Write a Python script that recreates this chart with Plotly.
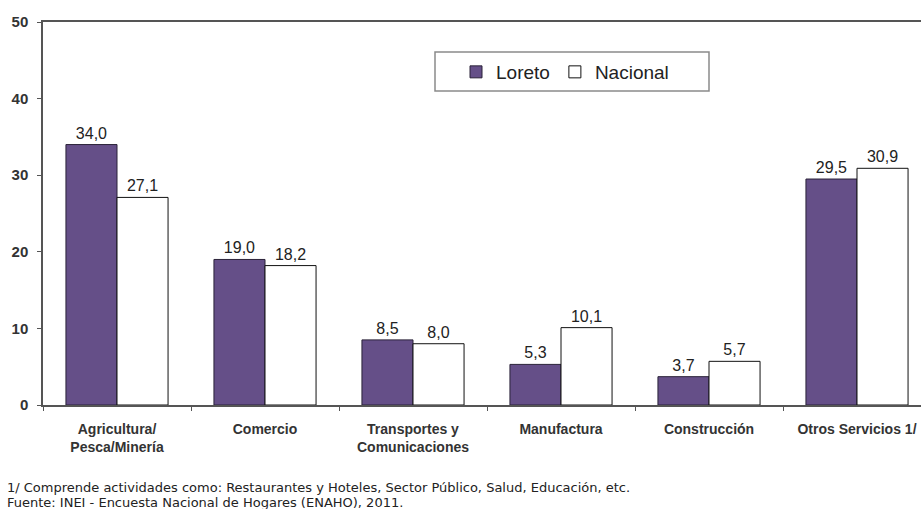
import plotly.graph_objects as go

categories = ["Agricultura/<br>Pesca/Minería", "Comercio", "Transportes y<br>Comunicaciones",
              "Manufactura", "Construcción", "Otros Servicios 1/"]
loreto = [34.0, 19.0, 8.5, 5.3, 3.7, 29.5]
nacional = [27.1, 18.2, 8.0, 10.1, 5.7, 30.9]
y_ticks = [0, 10, 20, 30, 40, 50]

W, H = 921, 509
L, R, T, B = 43, 0, 22, 104
plot_w = W - L - R
plot_h = H - T - B

SANS = "Liberation Sans, Arial, sans-serif"

fig = go.Figure()
fig.add_trace(go.Bar(
    x=categories, y=loreto, name="Loreto",
    marker=dict(color="#654f88", line=dict(color="#2a2238", width=1)),
    texttemplate="%{y:.1f}", textposition="outside",
    textfont=dict(size=16, color="#222", family=SANS), cliponaxis=False,
))
fig.add_trace(go.Bar(
    x=categories, y=nacional, name="Nacional",
    marker=dict(color="#ffffff", line=dict(color="#111", width=1)),
    texttemplate="%{y:.1f}", textposition="outside",
    textfont=dict(size=16, color="#222", family=SANS), cliponaxis=False,
))

def px_x(px):
    return (px - L) / plot_w

def px_y(py):
    return (H - B - py) / plot_h

footnotes = [
    "1/ Comprende actividades como: Restaurantes y Hoteles, Sector Público, Salud, Educación, etc.",
    "Fuente: INEI - Encuesta Nacional de Hogares (ENAHO), 2011.",
]
annotations = []
for i, txt in enumerate(footnotes):
    annotations.append(dict(
        text=txt, xref="paper", yref="paper", x=px_x(5), y=px_y(487.5 + 15 * i),
        xanchor="left", yanchor="middle", showarrow=False,
        font=dict(size=13, color="#222", family="DejaVu Sans"),
    ))

# legend frame
shapes = [dict(
    type="rect", xref="paper", yref="paper",
    x0=px_x(435), x1=px_x(709), y0=px_y(91), y1=px_y(52),
    line=dict(color="#8a8a8a", width=1.5), fillcolor="white", layer="above",
)]

# last category is partly cut by the right edge
span = 148.0
x_right = 5.5 - (L + 6 * span - W) / span

fig.update_layout(
    width=W, height=H,
    margin=dict(l=L, r=R, t=T, b=B),
    paper_bgcolor="white", plot_bgcolor="white",
    separators=",.",
    barmode="group", bargap=0.31, bargroupgap=0,
    font=dict(family=SANS, color="#222"),
    showlegend=True,
    legend=dict(
        orientation="h", x=px_x(456), y=px_y(53), xanchor="left", yanchor="top",
        bgcolor="rgba(0,0,0,0)", borderwidth=0,
        font=dict(size=19, color="#222", family=SANS), itemwidth=30,
    ),
    xaxis=dict(
        range=[-0.5, x_right], showline=True, linecolor="#555", linewidth=1.5,
        mirror=True, ticks="outside", tickson="boundaries", ticklen=4,
        tickcolor="#555", showgrid=False,
        tickvals=categories, ticktext=["<b>%s</b>" % c for c in categories],
        ticklabelstandoff=10,
        tickfont=dict(size=14, color="#333", family=SANS),
    ),
    yaxis=dict(
        range=[0, 50], tickvals=y_ticks, ticktext=["<b>%d</b>" % v for v in y_ticks],
        showline=True, linecolor="#555",
        linewidth=1.5, ticks="outside", ticklen=4, tickcolor="#555",
        showgrid=False, zeroline=False, ticklabelstandoff=6,
        tickfont=dict(size=15, color="#333", family=SANS),
    ),
    annotations=annotations,
    shapes=shapes,
)
fig.update_xaxes(tickangle=0)

fig.write_html("out.html")
